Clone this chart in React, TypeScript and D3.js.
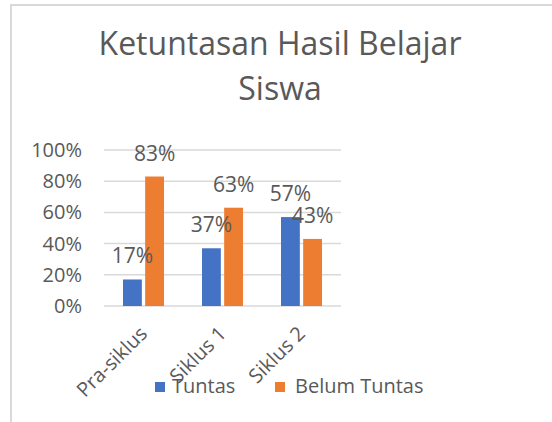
import React from "react";
import * as d3 from "d3";

const categories = ["Pra-siklus", "Siklus 1", "Siklus 2"];
const seriesNames = ["Tuntas", "Belum Tuntas"];
const tuntas = [0.17, 0.37, 0.57];
const belumTuntas = [0.83, 0.63, 0.43];
const yTicks = [0, 0.2, 0.4, 0.6, 0.8, 1.0];
const colors = ["#4472C4", "#ED7D31"];

const W = 552;
const H = 422;
const FONT = "'Open Sans', sans-serif";
const TXT = "#595959";

export default function App() {
  const x0 = d3.scaleBand<string>().domain(categories).range([104, 341]).padding(0);
  const groupW = 41;
  const bw0 = x0.bandwidth();
  const x1 = d3
    .scaleBand<string>()
    .domain(seriesNames)
    .range([(bw0 - groupW) / 2, (bw0 + groupW) / 2])
    .paddingInner(0.15);
  const y = d3.scaleLinear().domain([0, 1]).range([306, 150]);
  const fmt = d3.format(".0%");
  const values = [tuntas, belumTuntas];

  return (
    <svg
      width={W}
      height={H}
      style={{ position: "absolute", left: 0, top: 0, background: "#fff" }}
    >
      <rect x={0} y={0} width={W} height={H} fill="#fff" />
      <path d={`M11,${H} V5 H${W}`} fill="none" stroke="#d9d9d9" strokeWidth={2} />
      <text
        x={280}
        y={55}
        textAnchor="middle"
        fontFamily={FONT}
        fontSize={32}
        fill={TXT}
      >
        Ketuntasan Hasil Belajar
      </text>
      <text
        x={280}
        y={100}
        textAnchor="middle"
        fontFamily={FONT}
        fontSize={32}
        fill={TXT}
      >
        Siswa
      </text>
      {yTicks.map((t) => (
        <g key={t}>
          <line
            x1={104}
            x2={341}
            y1={y(t)}
            y2={y(t)}
            stroke="#d9d9d9"
            strokeWidth={1.5}
          />
          <text
            x={82}
            y={y(t)}
            dy="0.35em"
            textAnchor="end"
            fontFamily={FONT}
            fontSize={20}
            fill={TXT}
          >
            {fmt(t)}
          </text>
        </g>
      ))}
      {categories.map((c, i) => (
        <g key={c} transform={`translate(${x0(c)},0)`}>
          {seriesNames.map((s, j) => (
            <rect
              key={s}
              x={x1(s)}
              y={y(values[j][i])}
              width={x1.bandwidth()}
              height={y(0) - y(values[j][i])}
              fill={colors[j]}
            />
          ))}
        </g>
      ))}
      {categories.map((c, i) =>
        seriesNames.map((s, j) => (
          <text
            key={c + s}
            x={(x0(c) as number) + (x1(s) as number) + x1.bandwidth() / 2}
            y={y(values[j][i]) - 16}
            textAnchor="middle"
            fontFamily={FONT}
            fontSize={21}
            fill={TXT}
          >
            {fmt(values[j][i])}
          </text>
        ))
      )}
      {categories.map((c) => {
        const cx = (x0(c) as number) + bw0 / 2;
        return (
          <text
            key={c}
            transform={`translate(${cx - 5},${325}) rotate(-45)`}
            textAnchor="end"
            dy="0.7em"
            fontFamily={FONT}
            fontSize={20}
            fill={TXT}
          >
            {c}
          </text>
        );
      })}
      <rect x={155} y={382} width={10} height={10} fill={colors[0]} />
      <text x={172} y={393} fontFamily={FONT} fontSize={20} fill={TXT}>
        {seriesNames[0]}
      </text>
      <rect x={275} y={382} width={10} height={10} fill={colors[1]} />
      <text x={295} y={393} fontFamily={FONT} fontSize={20} fill={TXT}>
        {seriesNames[1]}
      </text>
    </svg>
  );
}
